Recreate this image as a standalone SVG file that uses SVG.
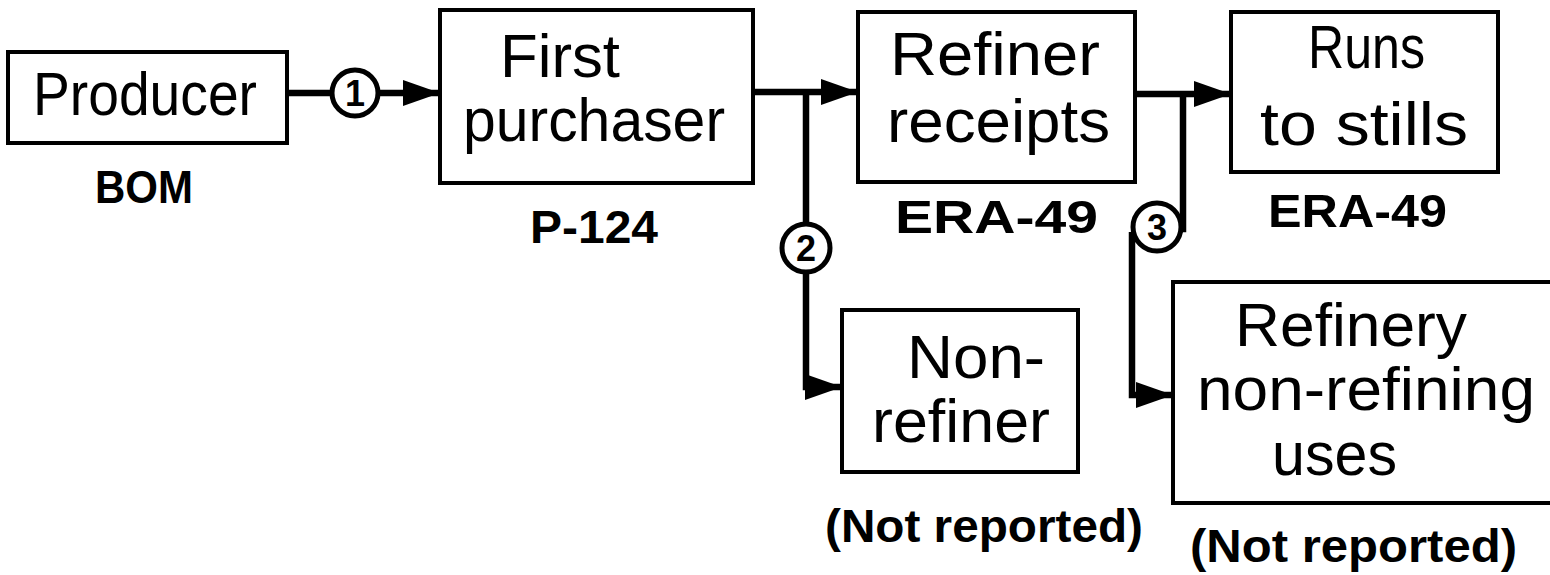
<svg xmlns="http://www.w3.org/2000/svg" width="1550" height="575" viewBox="0 0 1550 575">
  <style>
    .box { fill: #fff; stroke: #000; stroke-width: 4; }
    .name { font-family: "Liberation Sans", Arial, sans-serif; font-size: 62px; fill: #000; }
    .form { font-family: "Liberation Sans", Arial, sans-serif; font-size: 46px; font-weight: bold; fill: #000; }
    .num { font-family: "Liberation Sans", Arial, sans-serif; font-size: 36px; font-weight: bold; fill: #000; text-anchor: middle; }
    .flow { fill: none; stroke: #000; stroke-width: 6.5; stroke-linejoin: miter; }
    .ring { fill: #fff; stroke: #000; stroke-width: 5; }
  </style>
  <defs>
    <marker id="head" markerUnits="userSpaceOnUse" markerWidth="40" markerHeight="28" refX="37" refY="13" orient="auto">
      <path d="M0,0 L37,13 L0,26 Z" fill="#000"/>
    </marker>
  </defs>
  <rect width="1550" height="575" fill="#fff"/>

  <!-- flow lines with the numbered flow markers -->
  <g id="connectors">
    <path class="flow" d="M287,93 H332"/>
    <path class="flow" d="M378,93 H440" marker-end="url(#head)"/>
    <path class="flow" d="M753,92 H858" marker-end="url(#head)"/>
    <path class="flow" d="M806,92 V223"/>
    <path class="flow" d="M806,273 V387 H842" marker-end="url(#head)"/>
    <path class="flow" d="M1135,94 H1231" marker-end="url(#head)"/>
    <path class="flow" d="M1183,94 V229 H1180"/>
    <path class="flow" d="M1132,232 V395 H1173" marker-end="url(#head)"/>
    <g id="step1">
      <circle class="ring" cx="355" cy="93" r="23"/>
      <text class="num" x="355" y="106">1</text>
    </g>
    <g id="step2">
      <circle class="ring" cx="806" cy="248" r="24"/>
      <text class="num" x="806" y="261">2</text>
    </g>
    <g id="step3">
      <circle class="ring" cx="1157" cy="227" r="24"/>
      <text class="num" x="1157" y="240">3</text>
    </g>
  </g>

  <g id="producer">
    <rect class="box" x="8" y="52" width="279" height="91"/>
    <text class="name" x="33" y="115" textLength="224" lengthAdjust="spacingAndGlyphs">Producer</text>
    <text class="form" x="95" y="203" textLength="98" lengthAdjust="spacingAndGlyphs">BOM</text>
  </g>

  <g id="first-purchaser">
    <rect class="box" x="440" y="10" width="313" height="173"/>
    <text class="name" x="500" y="77" font-size="58" textLength="120" lengthAdjust="spacingAndGlyphs">First</text>
    <text class="name" x="463" y="141" font-size="58" textLength="262" lengthAdjust="spacingAndGlyphs">purchaser</text>
    <text class="form" x="530" y="243" textLength="128" lengthAdjust="spacingAndGlyphs">P-124</text>
  </g>

  <g id="refiner-receipts">
    <rect class="box" x="858" y="12" width="277" height="170"/>
    <text class="name" x="890" y="75" textLength="210" lengthAdjust="spacingAndGlyphs">Refiner</text>
    <text class="name" x="887" y="142" textLength="223" lengthAdjust="spacingAndGlyphs">receipts</text>
    <text class="form" x="895" y="233" textLength="203" lengthAdjust="spacingAndGlyphs">ERA-49</text>
  </g>

  <g id="runs-to-stills">
    <rect class="box" x="1231" y="12" width="267" height="160"/>
    <text class="name" x="1308" y="68" textLength="117" lengthAdjust="spacingAndGlyphs">Runs</text>
    <text class="name" x="1260" y="145" textLength="208" lengthAdjust="spacingAndGlyphs">to stills</text>
    <text class="form" x="1268" y="227" textLength="179" lengthAdjust="spacingAndGlyphs">ERA-49</text>
  </g>

  <g id="non-refiner">
    <rect class="box" x="842" y="310" width="236" height="162"/>
    <text class="name" x="907" y="378" textLength="138" lengthAdjust="spacingAndGlyphs">Non-</text>
    <text class="name" x="872" y="442" textLength="178" lengthAdjust="spacingAndGlyphs">refiner</text>
    <text class="form" x="825" y="542" textLength="318" lengthAdjust="spacingAndGlyphs">(Not reported)</text>
  </g>

  <g id="refinery-non-refining-uses">
    <rect class="box" x="1173" y="282" width="400" height="221"/>
    <text class="name" x="1235" y="346" textLength="232" lengthAdjust="spacingAndGlyphs">Refinery</text>
    <text class="name" x="1197" y="410" font-size="56" textLength="338" lengthAdjust="spacingAndGlyphs">non-refining</text>
    <text class="name" x="1272" y="475" font-size="56" textLength="125" lengthAdjust="spacingAndGlyphs">uses</text>
    <text class="form" x="1190" y="562" textLength="327" lengthAdjust="spacingAndGlyphs">(Not reported)</text>
  </g>
</svg>
